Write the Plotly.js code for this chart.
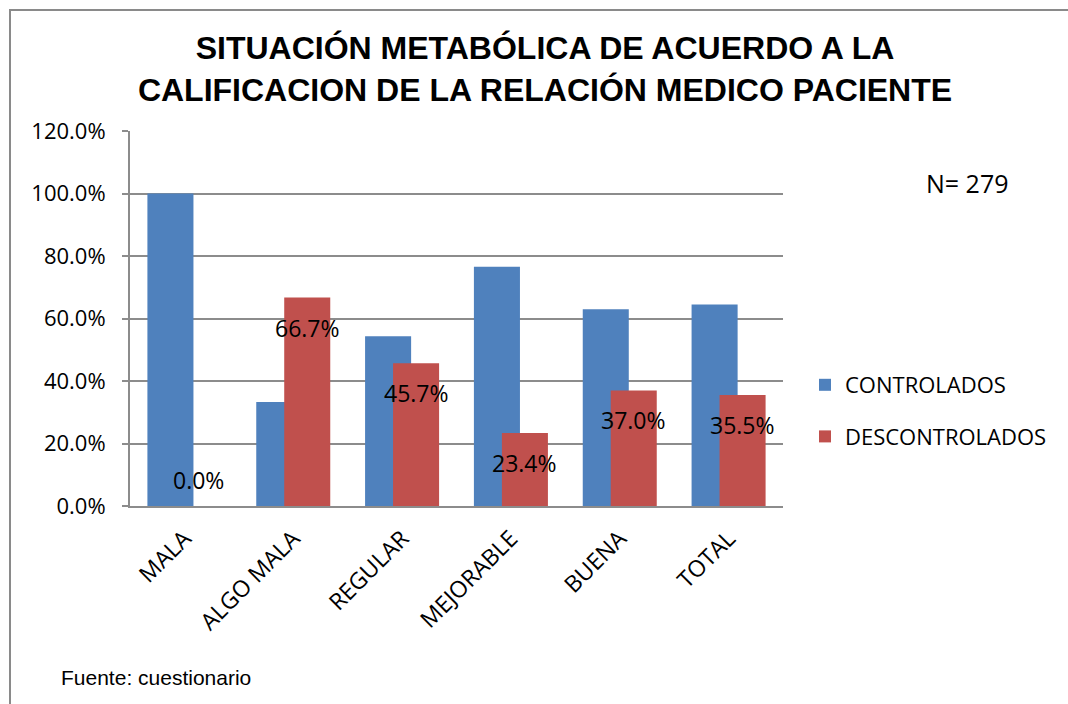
<!DOCTYPE html>
<html>
<head>
<meta charset="utf-8">
<script src="https://cdn.plot.ly/plotly-3.0.1.min.js"></script>
<style>
  html, body { margin: 0; padding: 0; background: #fff; overflow: hidden; }
  #wrap { position: relative; width: 1068px; height: 704px; }
  #frame { position: absolute; left: 9px; top: 9px; width: 1100px; height: 740px; border: 2px solid #8a8a8a; box-sizing: border-box; pointer-events: none; z-index: 5; }
  #chart { position: absolute; left: 0; top: 0; width: 1068px; height: 704px; }
</style>
</head>
<body>
<div id="wrap">
  <div id="chart"></div>
  <div id="frame"></div>
</div>
<script>
const categories = ["MALA", "ALGO MALA", "REGULAR", "MEJORABLE", "BUENA", "TOTAL"];
const controlados = [1.000, 0.333, 0.543, 0.766, 0.630, 0.645];
const descontrolados = [0.000, 0.667, 0.457, 0.234, 0.370, 0.355];
const seriesNames = ["CONTROLADOS", "DESCONTROLADOS"];
const yTickValues = [0, 0.2, 0.4, 0.6, 0.8, 1.0, 1.2];
const titleText = "SITUACIÓN METABÓLICA DE ACUERDO A LA<br>CALIFICACION DE LA RELACIÓN MEDICO PACIENTE";
const sampleNote = "N= 279";
const sourceNote = "Fuente: cuestionario";

const BLUE = "#4F81BD";
const RED = "#C0504D";
const barW = 0.423;
const SANS = "Open Sans, Noto Sans, sans-serif";
const ARIAL = "Liberation Sans, Arial, sans-serif";

// plot area in pixels (for placing free annotations in paper coords)
const PL = 130, PR = 783, PT = 131, PB = 506;
const px2x = p => (p - PL) / (PR - PL);
const px2y = p => (PB - p) / (PB - PT);

const traces = [
  {
    type: "bar", name: seriesNames[0], x: categories, y: controlados,
    marker: { color: BLUE }, width: barW, offset: -0.340,
    legendgroup: "a", hoverinfo: "skip"
  },
  {
    type: "bar", name: seriesNames[1], x: categories, y: descontrolados,
    marker: { color: RED }, width: barW, offset: -0.083,
    legendgroup: "b", hoverinfo: "skip"
  }
];

const labelFont = { family: SANS, size: 23, color: "#000" };
const annotations = descontrolados.map((v, i) => ({
  xref: "x", yref: "y", x: categories[i], y: v,
  xshift: 14, yshift: v > 0 ? -30 : 26,
  text: (v * 100).toFixed(1) + "%", showarrow: false,
  font: labelFont, xanchor: "center", yanchor: "middle"
}));
annotations.push({
  xref: "paper", yref: "paper", x: px2x(967), y: px2y(183),
  text: sampleNote, showarrow: false, xanchor: "center", yanchor: "middle",
  font: { family: SANS, size: 25, color: "#000" }
});
annotations.push({
  xref: "paper", yref: "paper", x: px2x(59), y: px2y(677),
  text: sourceNote, showarrow: false, xanchor: "left", yanchor: "middle",
  font: { family: ARIAL, size: 21, color: "#000" }
});

const layout = {
  width: 1068, height: 704,
  paper_bgcolor: "#fff", plot_bgcolor: "#fff",
  margin: { l: PL, r: 1068 - PR, t: PT, b: 704 - PB },
  barmode: "overlay",
  title: {
    text: titleText, xref: "container", yref: "container",
    x: 545 / 1068, xanchor: "center", y: 1 - 59 / 704, yanchor: "top",
    font: { family: ARIAL, size: 32, color: "#000", weight: "bold" }
  },
  xaxis: {
    type: "category", tickangle: -45, showgrid: false,
    showline: true, linecolor: "#8c8c8c", linewidth: 2,
    ticks: "", ticklabelstandoff: 8, range: [-0.5, 5.5], fixedrange: true,
    tickfont: { family: SANS, size: 23, color: "#000" }
  },
  yaxis: {
    range: [0, 1.2], tickvals: yTickValues, tickformat: ".1%",
    showgrid: true, gridcolor: "#8c8c8c", gridwidth: 2,
    showline: true, linecolor: "#8c8c8c", linewidth: 2,
    ticks: "outside", ticklen: 6, tickcolor: "#8c8c8c", tickwidth: 2,
    ticklabelstandoff: 12, zeroline: false, fixedrange: true,
    tickfont: { family: SANS, size: 22, color: "#000" }
  },
  showlegend: true,
  legend: {
    xref: "container", yref: "container",
    x: 805 / 1068, xanchor: "left", y: 1 - 364 / 704, yanchor: "top",
    traceorder: "grouped", tracegroupgap: 20,
    font: { family: SANS, size: 22, color: "#000" },
    bgcolor: "rgba(0,0,0,0)"
  },
  annotations: annotations
};

Plotly.newPlot("chart", traces, layout, { staticPlot: true, displayModeBar: false });
</script>
</body>
</html>
